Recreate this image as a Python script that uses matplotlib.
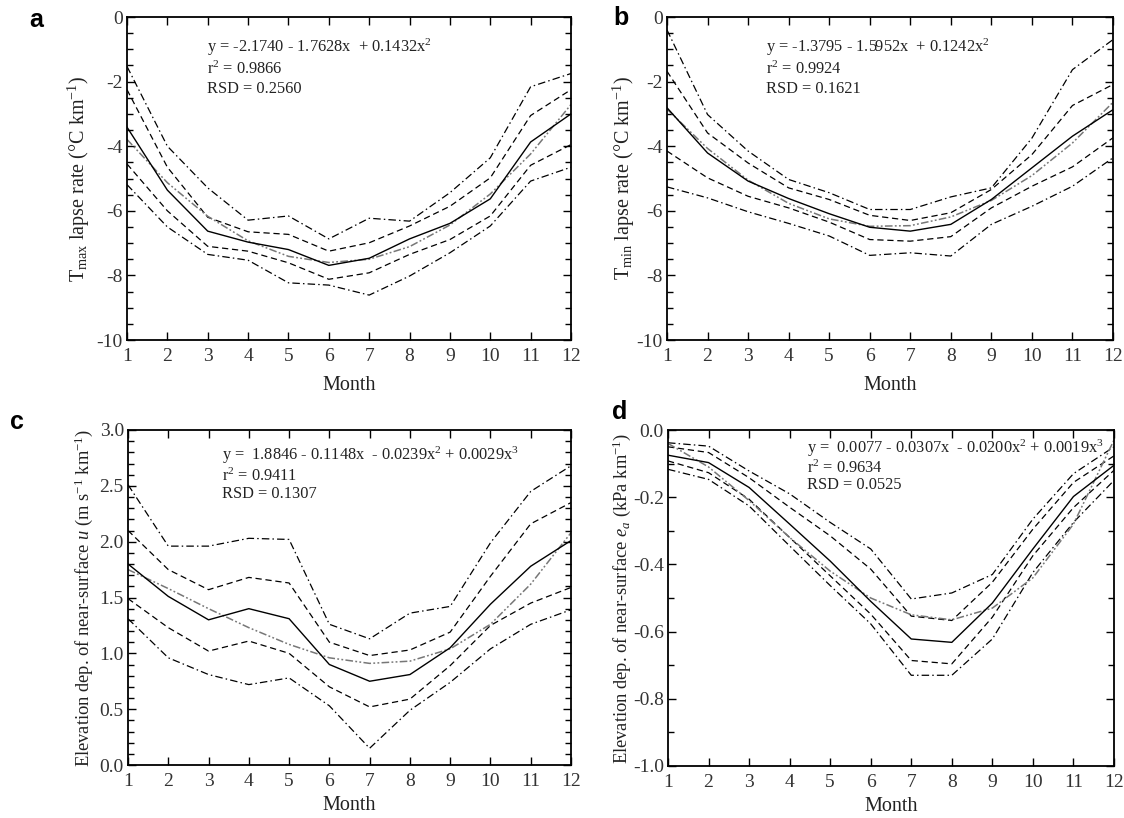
import matplotlib
matplotlib.use("Agg")
import matplotlib.pyplot as plt
from matplotlib.ticker import MultipleLocator, FixedLocator, FixedFormatter

plt.rcParams['font.family'] = ['Liberation Serif', 'DejaVu Serif']
plt.rcParams['mathtext.fontset'] = 'custom'
plt.rcParams['mathtext.rm'] = 'Liberation Serif'
plt.rcParams['mathtext.it'] = 'Liberation Serif:italic'
plt.rcParams['mathtext.bf'] = 'Liberation Serif:bold'
plt.rcParams['axes.unicode_minus'] = False

months = list(range(1, 13))

# Panel a: Tmax lapse rate
mean_a = [-3.41, -5.36, -6.63, -6.97, -7.20, -7.69, -7.47, -6.87, -6.39, -5.63, -3.87, -3.00]
dash_hi_a = [-2.25, -4.65, -6.20, -6.65, -6.73, -7.25, -6.99, -6.47, -5.86, -4.98, -3.05, -2.25]
dash_lo_a = [-4.55, -6.00, -7.10, -7.25, -7.61, -8.12, -7.92, -7.35, -6.89, -6.16, -4.59, -3.95]
dd_hi_a = [-1.53, -4.00, -5.29, -6.29, -6.16, -6.87, -6.23, -6.32, -5.44, -4.36, -2.16, -1.75]
dd_lo_a = [-5.19, -6.50, -7.35, -7.53, -8.23, -8.30, -8.61, -8.02, -7.30, -6.47, -5.08, -4.65]
fit_a = [-3.79, -5.13, -6.17, -6.93, -7.41, -7.60, -7.50, -7.11, -6.44, -5.48, -4.24, -2.71]

# Panel b: Tmin lapse rate
mean_b = [-2.81, -4.21, -5.08, -5.62, -6.09, -6.51, -6.63, -6.42, -5.65, -4.67, -3.69, -2.87]
dash_hi_b = [-1.68, -3.59, -4.52, -5.29, -5.65, -6.14, -6.30, -6.06, -5.34, -4.26, -2.74, -2.09]
dash_lo_b = [-4.15, -4.98, -5.55, -5.91, -6.35, -6.89, -6.94, -6.80, -5.91, -5.24, -4.64, -3.74]
dd_hi_b = [-0.40, -3.02, -4.15, -5.03, -5.44, -5.96, -5.96, -5.57, -5.29, -3.75, -1.63, -0.70]
dd_lo_b = [-5.26, -5.60, -6.03, -6.39, -6.78, -7.38, -7.30, -7.40, -6.42, -5.86, -5.24, -4.36]
fit_b = [-2.85, -4.07, -5.05, -5.77, -6.25, -6.48, -6.46, -6.19, -5.68, -4.91, -3.90, -2.64]

# Panel c: near-surface wind speed
mean_c = [1.80, 1.51, 1.30, 1.40, 1.31, 0.90, 0.75, 0.81, 1.05, 1.44, 1.78, 2.01]
dash_hi_c = [2.10, 1.75, 1.57, 1.68, 1.63, 1.10, 0.98, 1.03, 1.19, 1.69, 2.16, 2.35]
dash_lo_c = [1.49, 1.23, 1.02, 1.11, 1.00, 0.70, 0.52, 0.59, 0.89, 1.25, 1.45, 1.59]
dd_hi_c = [2.51, 1.96, 1.96, 2.03, 2.02, 1.26, 1.13, 1.36, 1.42, 1.99, 2.45, 2.68]
dd_lo_c = [1.31, 0.96, 0.81, 0.72, 0.78, 0.53, 0.15, 0.49, 0.74, 1.04, 1.26, 1.39]
fit_c = [1.75, 1.58, 1.40, 1.23, 1.08, 0.96, 0.91, 0.93, 1.04, 1.26, 1.62, 2.08]

# Panel d: near-surface vapour pressure
mean_d = [-0.075, -0.097, -0.171, -0.28, -0.39, -0.51, -0.622, -0.632, -0.515, -0.354, -0.198, -0.105]
dash_hi_d = [-0.05, -0.067, -0.142, -0.23, -0.315, -0.414, -0.554, -0.567, -0.453, -0.295, -0.156, -0.077]
dash_lo_d = [-0.092, -0.127, -0.206, -0.32, -0.434, -0.548, -0.686, -0.696, -0.557, -0.374, -0.231, -0.12]
dd_hi_d = [-0.038, -0.048, -0.122, -0.19, -0.275, -0.354, -0.503, -0.485, -0.43, -0.265, -0.13, -0.05]
dd_lo_d = [-0.117, -0.147, -0.226, -0.345, -0.463, -0.577, -0.73, -0.73, -0.622, -0.424, -0.275, -0.15]
fit_d = [-0.04, -0.11, -0.21, -0.32, -0.42, -0.50, -0.55, -0.565, -0.53, -0.44, -0.28, -0.03]

yticks_a = [0, -2, -4, -6, -8, -10]
yticklabels_a = ['0', '-2', '-4', '-6', '-8', '-10']
yticks_c = [0.0, 0.5, 1.0, 1.5, 2.0, 2.5, 3.0]
yticklabels_c = ['0.0', '0.5', '1.0', '1.5', '2.0', '2.5', '3.0']
yticks_d = [0.0, -0.2, -0.4, -0.6, -0.8, -1.0]
yticklabels_d = ['0.0', '-0.2', '-0.4', '-0.6', '-0.8', '-1.0']
xticklabels = [str(m) for m in months]

ylabel_a = r'T$_{\rm max}$ lapse rate (°C km$^{-1}$)'
ylabel_b = r'T$_{\rm min}$ lapse rate (°C km$^{-1}$)'
ylabel_c = r'Elevation dep. of near-surface $u$ (m s$^{-1}$ km$^{-1}$)'
ylabel_d = r'Elevation dep. of near-surface $e_a$ (kPa km$^{-1}$)'

eq_a = ['y = -2.1740 - 1.7628x  + 0.1432x$^2$', 'r$^2$ = 0.9866', 'RSD = 0.2560']
eq_b = ['y = -1.3795 - 1.5952x  + 0.1242x$^2$', 'r$^2$ = 0.9924', 'RSD = 0.1621']
eq_c = ['y =  1.8846 - 0.1148x  - 0.0239x$^2$ + 0.0029x$^3$', 'r$^2$ = 0.9411', 'RSD = 0.1307']
eq_d = ['y =  0.0077 - 0.0307x  - 0.0200x$^2$ + 0.0019x$^3$', 'r$^2$ = 0.9634', 'RSD = 0.0525']

fig = plt.figure(figsize=(11.24, 8.18), dpi=100)

W, H = 1124.0, 818.0
def rect(l, r, t, b):
    return [l / W, 1 - b / H, (r - l) / W, (b - t) / H]

panels = [
    dict(rect=rect(127, 571, 17, 340), data=(mean_a, dash_hi_a, dash_lo_a, dd_hi_a, dd_lo_a, fit_a),
         ylim=(-10, 0), yt=yticks_a, ytl=yticklabels_a, minor=0.5, ylabel=ylabel_a, ylsize=14.5, ylpad=3,
         xlpad=8, eq=eq_a, eqx=0.18, eqy=[0.907, 0.839, 0.777], letter='a', lx=29, ly=8),
    dict(rect=rect(667, 1113, 17, 340), data=(mean_b, dash_hi_b, dash_lo_b, dd_hi_b, dd_lo_b, fit_b),
         ylim=(-10, 0), yt=yticks_a, ytl=yticklabels_a, minor=0.5, ylabel=ylabel_b, ylsize=14.5, ylpad=0,
         xlpad=8, eq=eq_b, eqx=0.222, eqy=[0.907, 0.839, 0.777], letter='b', lx=613, ly=6),
    dict(rect=rect(128, 571, 430, 765), data=(mean_c, dash_hi_c, dash_lo_c, dd_hi_c, dd_lo_c, fit_c),
         ylim=(0, 3), yt=yticks_c, ytl=yticklabels_c, minor=0.1, ylabel=ylabel_c, ylsize=13.3, ylpad=3,
         xlpad=4, eq=eq_c, eqx=0.212, eqy=[0.925, 0.863, 0.809], letter='c', lx=10, ly=410),
    dict(rect=rect(668, 1114, 430, 766), data=(mean_d, dash_hi_d, dash_lo_d, dd_hi_d, dd_lo_d, fit_d),
         ylim=(-1, 0), yt=yticks_d, ytl=yticklabels_d, minor=0.1, ylabel=ylabel_d, ylsize=13.3, ylpad=0,
         xlpad=4, eq=eq_d, eqx=0.312, eqy=[0.946, 0.887, 0.836], letter='d', lx=612, ly=400),
]

dash_style = (0, (5, 3))
dd_style = (0, (6, 2.5, 1.2, 2.5))
fit_style = (0, (5, 1.5, 1.2, 1.5, 1.2, 1.5))

for p in panels:
    ax = fig.add_axes(p['rect'])
    mean, dhi, dlo, ddhi, ddlo, fit = p['data']
    ax.plot(months, ddhi, color='black', lw=0.9, linestyle=dd_style)
    ax.plot(months, dhi, color='black', lw=0.9, linestyle=dash_style)
    ax.plot(months, dlo, color='black', lw=0.9, linestyle=dash_style)
    ax.plot(months, ddlo, color='black', lw=0.9, linestyle=dd_style)
    ax.plot(months, fit, color='#777777', lw=1.1, linestyle=fit_style)
    ax.plot(months, mean, color='black', lw=1.0, linestyle='-')
    ax.set_xlim(1, 12)
    ax.set_ylim(*p['ylim'])
    ax.xaxis.set_major_locator(FixedLocator(months))
    ax.xaxis.set_major_formatter(FixedFormatter(xticklabels))
    ax.yaxis.set_major_locator(FixedLocator(p['yt']))
    ax.yaxis.set_major_formatter(FixedFormatter(p['ytl']))
    ax.yaxis.set_minor_locator(MultipleLocator(p['minor']))
    ax.tick_params(axis='both', which='both', direction='in', top=True, right=True)
    ax.tick_params(axis='both', which='major', length=6, width=1.0, labelsize=14, pad=6, colors='black')
    ax.tick_params(axis='y', which='minor', length=4, width=1.0)
    ax.tick_params(axis='x', which='major', labelcolor='#333333')
    ax.tick_params(axis='y', which='major', labelcolor='#333333', pad=3)
    for s in ax.spines.values():
        s.set_linewidth(1.3)
    ax.set_xlabel('Month', fontsize=14.5, color='#222222', labelpad=p['xlpad'])
    ax.set_ylabel(p['ylabel'], fontsize=p['ylsize'], color='#222222', labelpad=p['ylpad'])
    for txt, yy in zip(p['eq'], p['eqy']):
        ax.text(p['eqx'], yy, txt, transform=ax.transAxes, fontsize=11.8, va='center', ha='left', color='#222222')
    fig.text(p['lx'] / W, 1 - p['ly'] / H, p['letter'], fontsize=18, fontweight='bold',
             family='Liberation Sans', va='top', ha='left')

fig.savefig('out.png', dpi=100)
